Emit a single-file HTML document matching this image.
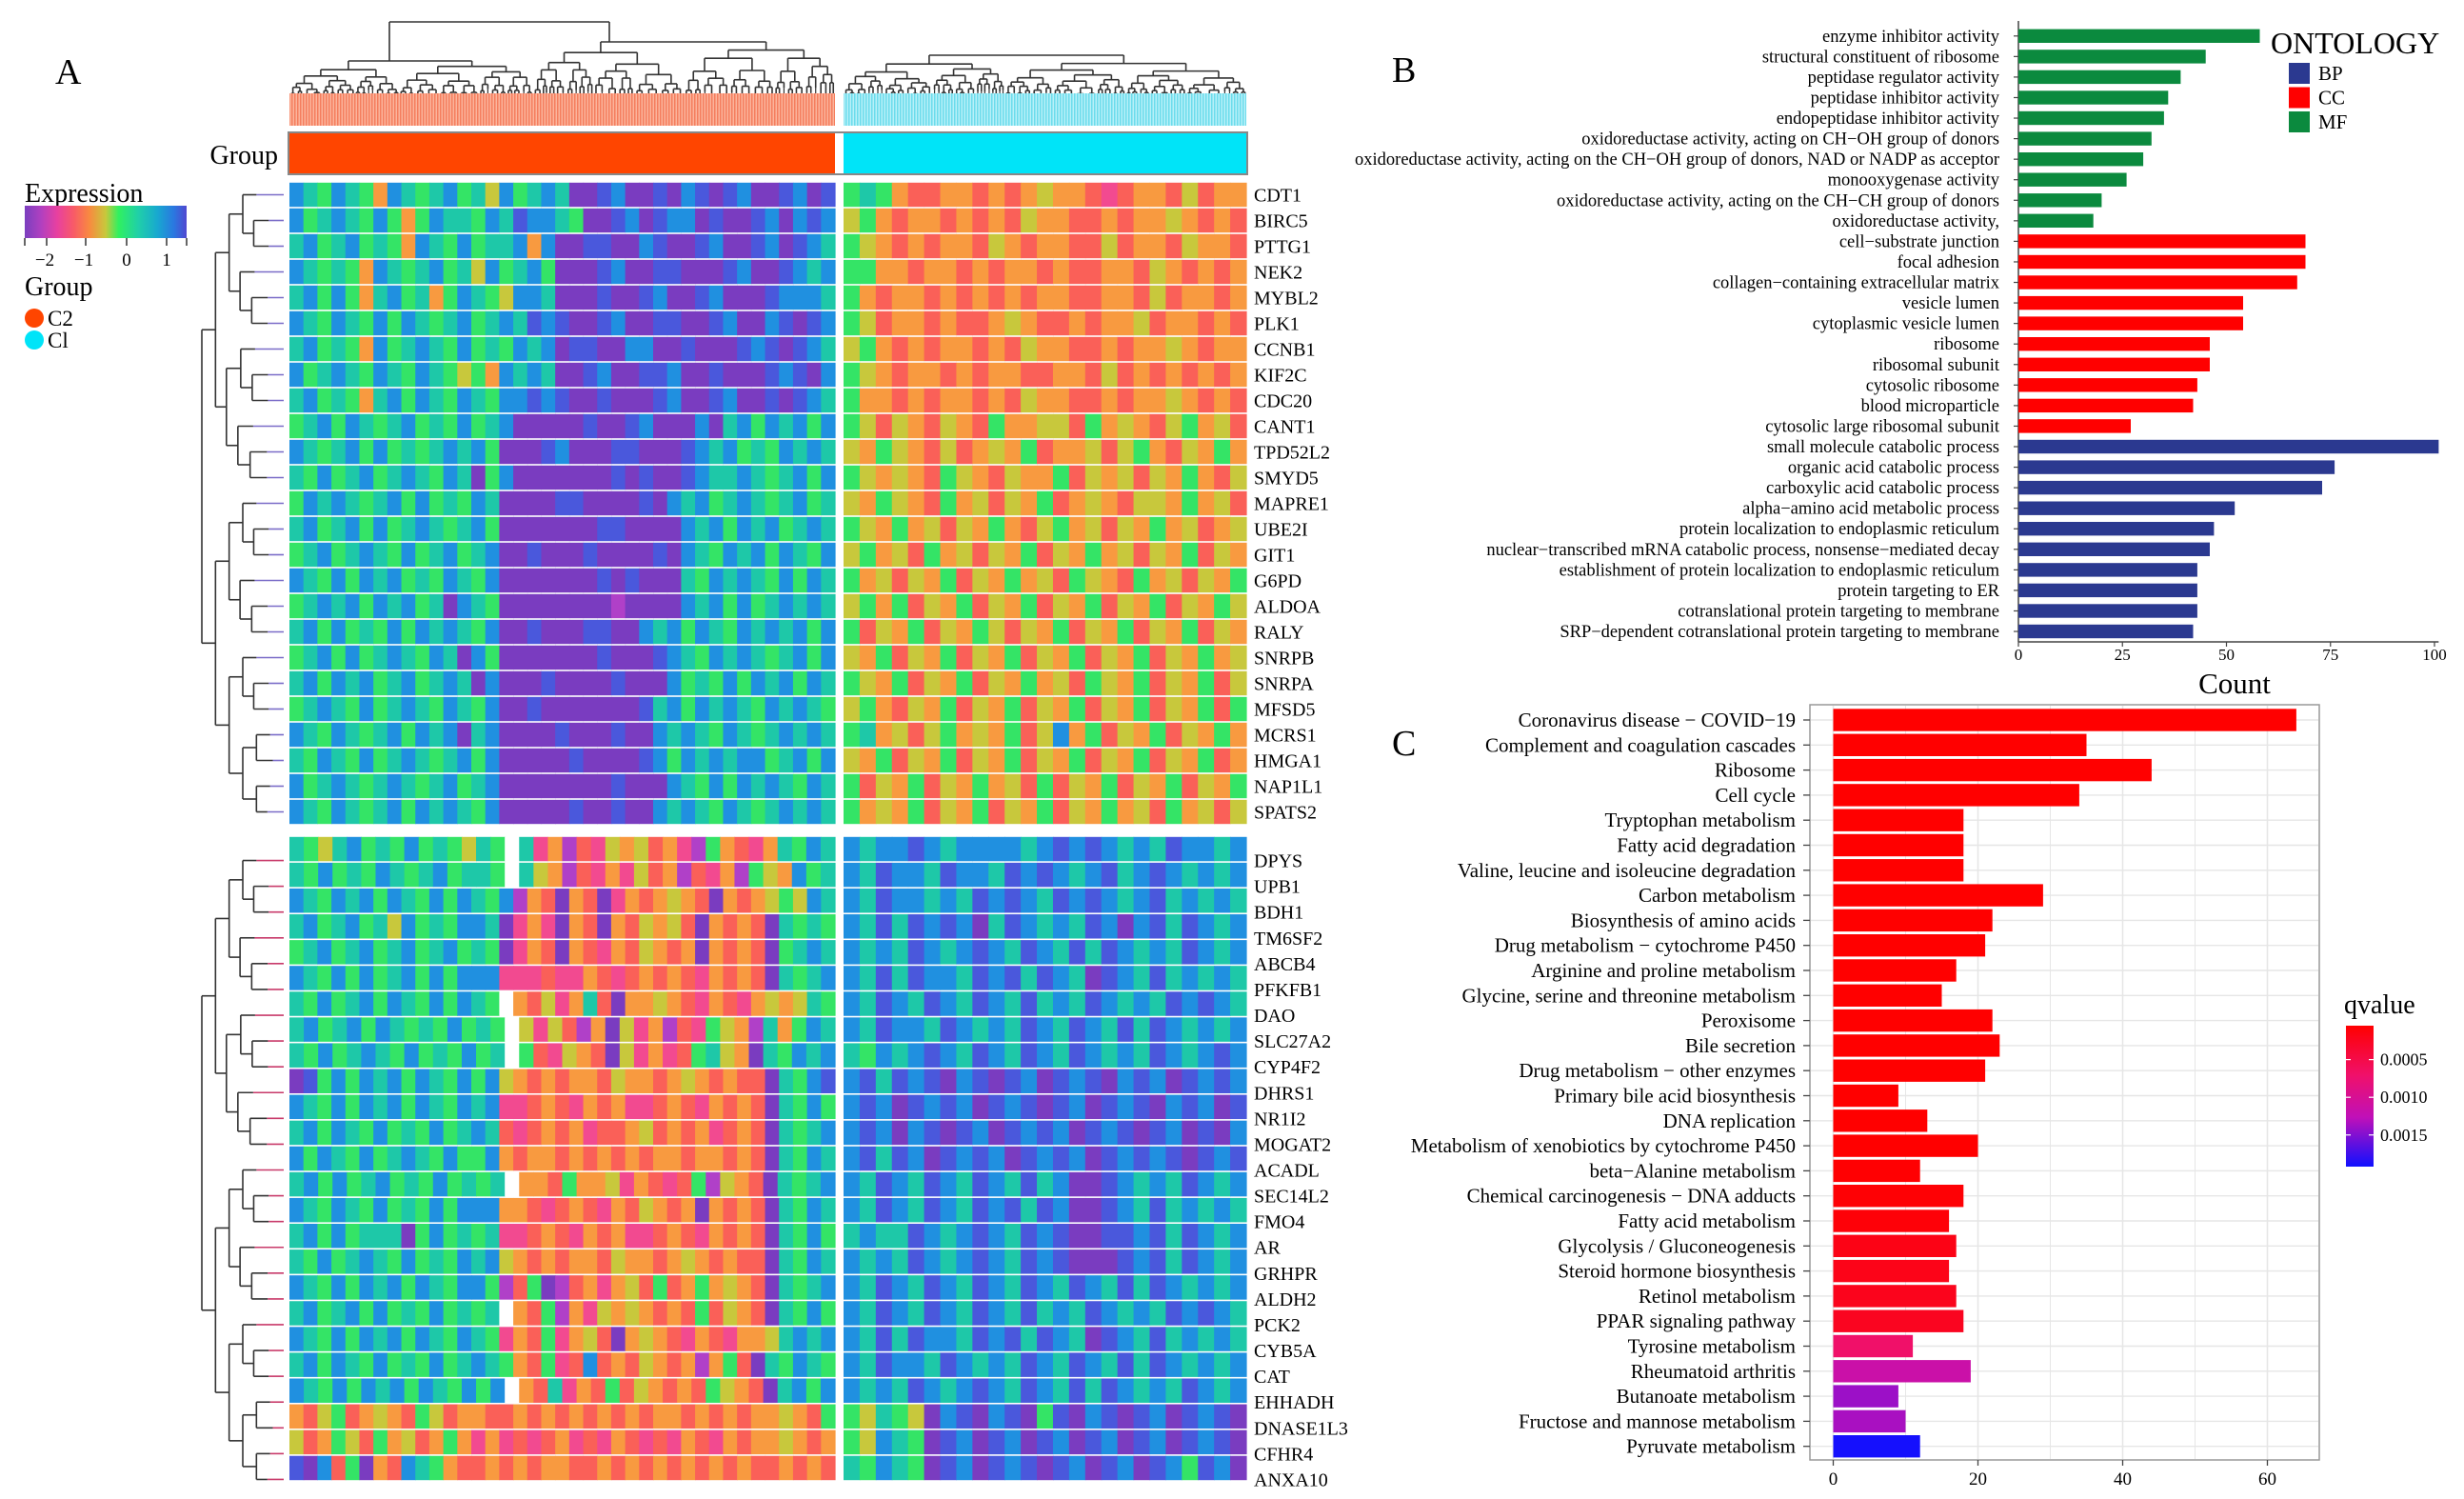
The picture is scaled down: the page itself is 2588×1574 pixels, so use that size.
<!DOCTYPE html>
<html><head><meta charset="utf-8">
<style>
html,body{margin:0;padding:0;background:#fff;}
svg{display:block;font-family:"Liberation Serif","DejaVu Serif",serif;}
</style></head>
<body>
<svg id="fig" width="2588" height="1574" viewBox="0 0 2588 1574" xmlns="http://www.w3.org/2000/svg">
<defs>
<linearGradient id="exprGrad" x1="0" x2="1" y1="0" y2="0">
<stop offset="0" stop-color="#7a3fbf"/><stop offset="0.1" stop-color="#b040c0"/><stop offset="0.2" stop-color="#e840a0"/>
<stop offset="0.3" stop-color="#f85a68"/><stop offset="0.4" stop-color="#f88a40"/><stop offset="0.5" stop-color="#c8c83c"/>
<stop offset="0.58" stop-color="#30f060"/><stop offset="0.7" stop-color="#20d0a8"/><stop offset="0.82" stop-color="#18a8d0"/>
<stop offset="0.92" stop-color="#2a78e0"/><stop offset="1" stop-color="#5048d0"/>
</linearGradient>
<linearGradient id="qGrad" x1="0" x2="0" y1="0" y2="1">
<stop offset="0" stop-color="#ff0000"/><stop offset="0.35" stop-color="#f0106a"/><stop offset="0.65" stop-color="#c010b8"/><stop offset="1" stop-color="#1010ff"/>
</linearGradient>
<pattern id="salmonLines" width="3" height="10" patternUnits="userSpaceOnUse"><rect width="3" height="10" fill="#fbb49c"/><rect width="1.5" height="10" fill="#f57e5e"/></pattern>
<pattern id="cyanLines" width="3" height="10" patternUnits="userSpaceOnUse"><rect width="3" height="10" fill="#b8f0f8"/><rect width="1.5" height="10" fill="#6cdcec"/></pattern>
</defs>

<text x="58" y="88" font-size="38">A</text>
<text x="1462" y="86" font-size="38">B</text>
<text x="1462" y="793" font-size="38">C</text>

<g id="colDendro"></g>
<rect x="304" y="98" width="573" height="34" fill="url(#salmonLines)"/>
<rect x="886" y="98" width="423" height="34" fill="url(#cyanLines)"/>

<text x="292" y="172" font-size="28" text-anchor="end">Group</text>
<rect x="303" y="139" width="1007" height="44" fill="none" stroke="#888" stroke-width="2"/>
<rect x="304" y="140" width="573" height="42" fill="#ff4500"/>
<rect x="886" y="140" width="423" height="42" fill="#00e4f8"/>

<g>
<text x="26" y="212" font-size="28">Expression</text>
<rect x="26" y="216" width="170" height="34" fill="url(#exprGrad)"/>
<g stroke="#333" stroke-width="1.5"><line x1="26" y1="250" x2="26" y2="258"/><line x1="49" y1="250" x2="49" y2="258"/><line x1="90" y1="250" x2="90" y2="258"/><line x1="133" y1="250" x2="133" y2="258"/><line x1="175" y1="250" x2="175" y2="258"/><line x1="196" y1="250" x2="196" y2="258"/></g>
<g font-size="19" text-anchor="middle"><text x="47" y="279">−2</text><text x="88" y="279">−1</text><text x="133" y="279">0</text><text x="175" y="279">1</text></g>
<text x="26" y="310" font-size="28">Group</text>
<circle cx="36" cy="334" r="10" fill="#ff4500"/>
<text x="50" y="342" font-size="23">C2</text>
<circle cx="36" cy="357" r="10" fill="#00e4f8"/>
<text x="50" y="365" font-size="23">Cl</text>
</g>

<g id="rowDendro"></g>
<g id="heatmap"></g>
<g id="rowLabels"></g>

<g id="panelB"></g>
<g id="panelC"></g>
</svg>

<script>
// ===== Heatmap data =====
const upperGenes = ["CDT1","BIRC5","PTTG1","NEK2","MYBL2","PLK1","CCNB1","KIF2C","CDC20","CANT1","TPD52L2","SMYD5","MAPRE1","UBE2I","GIT1","G6PD","ALDOA","RALY","SNRPB","SNRPA","MFSD5","MCRS1","HMGA1","NAP1L1","SPATS2"];
const lowerGenes = ["DPYS","UPB1","BDH1","TM6SF2","ABCB4","PFKFB1","DAO","SLC27A2","CYP4F2","DHRS1","NR1I2","MOGAT2","ACADL","SEC14L2","FMO4","AR","GRHPR","ALDH2","PCK2","CYB5A","CAT","EHHADH","DNASE1L3","CFHR4","ANXA10"];
// level codes per column block: 0 purple .. 9 blue-violet, w = missing
const upperC2 = [
"876876487678675867870098009089098009809","867876864687768798876009809880900980898","786786764876867784800990089009800980987",
"876764876786758678600098009900098009878","786864786746876588700090098009800098887","876876868767867879890098009900980089098",
"786764867876867687809900880090009890987","867876876876564878700980099800900098908","786764786876876889890090009800980090987",
"678687678676867800000900980008078687868","876786867678786000980009900098786768787","768678678768706800000009090098778767868",
"687876786867687000099000090878678767867","786786867876786000000099000087868786787","678678768678678009000900009087687868768",
"876868786768768000000090900076878768687","678786878670876000000001000087868678787","786867686878768009000990087868768787868",
"678686787687086000000090009876878767868","786878678678708000900009000867686878687","678768678768768009000000097868787687876",
"876876786878078000090009008787687678787","768768678767868000009000098687878867868","867876787678678000000009000876868787687",
"876876786878768000009009008787687678787"];
const upperC1 = [
"6764334434345443234435344","5643443434354433434454343","6543434435434433534435443","6644344343443433443543434",
"6434434343434433443534434","6534434334543343445344343","5643434434354433434454344","6543443434433443534343434",
"6443434434354433434454343","6535435436445536454356453","5465435345463445356435464","6545436543544635453546435",
"5465436453546345435546453","6546453546435645354645345","5645364535463546453546354","6453546354645365436453546",
"5646354635463546354635465","6354635465354635463546354","5463546354635463546354645","6546354635464536546354635",
"5643546354635463546354636","6745356454635846354635464","5463546354635463546354634","6354635464536354635463546",
"6454635463546354645364535"];
const lowerC2 = [
"765786768676576w7241325453421643247687","768676876786776w7541324253413241654867","876878687686876814304302434543043456587",
"786786758676887024204304354530434307676","678678678678676024304324354340434306787","876868678686888222322432343432434307678",
"768678687686876w43524730445432432454576","786786876768676w5253140524132654174687","768678768676867w6325430524236754076878",
"096868786876868543434435443454343307689","876868786876878223432434223432434307686","786876867686787323434233453434234307678",
"868768678768668434434343434434434307687","786867867686767w4436445243236154307678","876876867686888443234324354340434307687",
"786867770686767223432434223432434307686","768678768676878543434435443454343307687","876868786876886136013424536346454307678",
"786786867686767w43614254543436354307686","876868786876876243624530454324324457878","786876867686787643623834354341463076876",
"876868786876868w4372436354343654307868","435634543653443343434343434434343445436","534653645346424232342324323243243445434",
"908360438764334343443343434343434334343"];
const lowerC1 = [
"8788987888878989878798878","8798879887989878978987878","8798878798987989878978787",
"8797989807987879808979878","8787987898798797987879878","8797988798979870987978787",
"8798798798797879878798987","8798879878798798797987878","7687898798798798787987898",
"8979890890980989089809898","8980989809890980989089809","8980890980989809890980908",
"8979809898098980989890989","8798798798797800987879878","8798798798979800987978787",
"7877987898798900998979878","8787987898798900098979878","8798798798798798797987878",
"8798798798797879878798987","8797988798979870987978787","8798879878798798797987878",
"8787987898798797987879878","6576508908906908909809890","6587609809809809809809890",
"7687609809890980980986980"];

const palette = {"0":"#7a3cc0","1":"#b040c8","2":"#f24a90","3":"#fa6058","4":"#f89a40","5":"#c8c83c","6":"#34e466","7":"#1ec8a8","8":"#2090e0","9":"#4a58dc","w":"#ffffff"};

const hm = document.getElementById('heatmap');
const NS = 'http://www.w3.org/2000/svg';
function mk(tag, attrs, parent){const e=document.createElementNS(NS,tag);for(const k in attrs)e.setAttribute(k,attrs[k]);(parent||hm).appendChild(e);return e;}

const c2x0=304,c2x1=877,c1x0=886,c1x1=1309;
function drawBlock(c2, c1, genes, y0, y1, labelShift){
  const n=c2.length, rh=(y1-y0)/n;
  for(let r=0;r<n;r++){
    const y=y0+r*rh;
    [[c2[r],c2x0,c2x1],[c1[r],c1x0,c1x1]].forEach(([s,a,b])=>{
      const w=(b-a)/s.length;
      for(let i=0;i<s.length;i++){
        const cell=mk('rect',{x:(a+i*w).toFixed(2),y:(y+0.8).toFixed(2),width:(w+0.6).toFixed(2),height:(rh-1.6).toFixed(2),fill:palette[s[i]]});
        
        
      }
    });
    const t=mk('text',{x:1317,y:(y+rh/2+7+labelShift).toFixed(1),'font-size':20},document.getElementById('rowLabels'));
    t.textContent=genes[r];
    
    
  }
}
drawBlock(upperC2, upperC1, upperGenes, 191, 866, 0);
drawBlock(lowerC2, lowerC1, lowerGenes, 878, 1555, 12);

// ===== Dendrograms (structure) =====
const cd=document.getElementById('colDendro');
function line(p,x1,y1,x2,y2,col,w){mk('line',{x1,y1,x2,y2,stroke:col,'stroke-width':w||1.6},p);}
function tree(p,a,b,yTop,yLeaf,depth){
  const cx=(a+b)/2;
  if(depth===0||b-a<6){line(p,cx,yTop,cx,yLeaf,'#333',1.2);return cx;}
  const f=((depth*7+Math.round(a))%5)/20+0.4;
  const m=a+(b-a)*f;
  const step=(yLeaf-yTop)/(depth+1);
  const yl=yTop+step*(1+((depth+Math.round(b))%3)*0.3);
  const yr=yTop+step*(1+((depth+Math.round(a))%2)*0.5);
  const l=tree(p,a,m,Math.min(yl,yLeaf-4),yLeaf,depth-1);
  const r=tree(p,m,b,Math.min(yr,yLeaf-4),yLeaf,depth-1);
  line(p,l,yTop,r,yTop,'#333');
  line(p,l,yTop,l,Math.min(yl,yLeaf-4),'#333');
  line(p,r,yTop,r,Math.min(yr,yLeaf-4),'#333');
  return (l+r)/2;
}
tree(cd,304,560,64,104,6);
tree(cd,560,877,44,104,6);
line(cd,409,23,640,23,'#333');line(cd,409,23,409,64,'#333');line(cd,640,23,640,44,'#333');
tree(cd,886,1309,58,104,7);

const rd=document.getElementById('rowDendro');
function rowTree(a,b,xTop,xLeaf,depth,col,rh,y0){
  if(b-a===1){const y=y0+(a+0.5)*rh;line(rd,xTop,y,xLeaf,y,col,1.6);return y;}
  const m=Math.floor((a+b)/2);
  const step=(xLeaf-xTop)/(depth+1);
  const s2=step*(0.8+((a+b)%3)*0.2);
  const y1=rowTree(a,m,xTop+step,xLeaf,depth-1,col,rh,y0);
  const y2=rowTree(m,b,xTop+s2,xLeaf,depth-1,col,rh,y0);
  line(rd,xTop,y1,xTop,y2,'#333',1.6);
  line(rd,xTop,y1,xTop+step,y1,'#333',1.6);
  line(rd,xTop,y2,xTop+s2,y2,'#333',1.6);
  return (y1+y2)/2;
}
rowTree(0,25,212,298,5,'#7a6cc8',(866-191)/25,191);
rowTree(0,25,212,298,5,'#c83a6a',(1555-878)/25,878+12);

// ===== Panel B: GO enrichment =====
const goTerms = ["enzyme inhibitor activity","structural constituent of ribosome","peptidase regulator activity","peptidase inhibitor activity","endopeptidase inhibitor activity","oxidoreductase activity, acting on CH−OH group of donors","oxidoreductase activity, acting on the CH−OH group of donors, NAD or NADP as acceptor","monooxygenase activity","oxidoreductase activity, acting on the CH−CH group of donors","oxidoreductase activity,","cell−substrate junction","focal adhesion","collagen−containing extracellular matrix","vesicle lumen","cytoplasmic vesicle lumen","ribosome","ribosomal subunit","cytosolic ribosome","blood microparticle","cytosolic large ribosomal subunit","small molecule catabolic process","organic acid catabolic process","carboxylic acid catabolic process","alpha−amino acid metabolic process","protein localization to endoplasmic reticulum","nuclear−transcribed mRNA catabolic process, nonsense−mediated decay","establishment of protein localization to endoplasmic reticulum","protein targeting to ER","cotranslational protein targeting to membrane","SRP−dependent cotranslational protein targeting to membrane"];
const goCounts = [58,45,39,36,35,32,30,26,20,18,69,69,67,54,54,46,46,43,42,27,101,76,73,52,47,46,43,43,43,42];
const goOntology = ["MF","MF","MF","MF","MF","MF","MF","MF","MF","MF","CC","CC","CC","CC","CC","CC","CC","CC","CC","CC","BP","BP","BP","BP","BP","BP","BP","BP","BP","BP"];
const goTicks = [0,25,50,75,100];
const ontColors = {BP:"#2b3990",CC:"#ff0000",MF:"#0b8a3e"};

const pB=document.getElementById('panelB');
const bx0=2120, bxs=4.37, by0=37.8, bstep=21.56;
const xB=v=>bx0+v*bxs, yB=i=>by0+i*bstep;
mk('line',{x1:bx0,y1:22,x2:bx0,y2:674,stroke:'#444','stroke-width':1.5},pB);
mk('line',{x1:bx0,y1:674,x2:xB(101),y2:674,stroke:'#444','stroke-width':1.5},pB);
goCounts.forEach((v,i)=>{
  const b=mk('rect',{x:bx0,y:(yB(i)-7.2).toFixed(1),width:(xB(v)-bx0).toFixed(1),height:14.4,fill:ontColors[goOntology[i]]},pB);
  
  
  mk('line',{x1:bx0-5,y1:yB(i),x2:bx0,y2:yB(i),stroke:'#444','stroke-width':1.2},pB);
  const t=mk('text',{x:2100,y:(yB(i)+6).toFixed(1),'font-size':18.5,'text-anchor':'end'},pB);
  t.textContent=goTerms[i];
  
  
});
goTicks.forEach(v=>{
  mk('line',{x1:xB(v),y1:674,x2:xB(v),y2:679,stroke:'#444','stroke-width':1.2},pB);
  const t=mk('text',{x:xB(v),y:693,'font-size':17,'text-anchor':'middle'},pB);
  t.textContent=v;
  
  
});
{const t=mk('text',{x:2347,y:728,'font-size':31,'text-anchor':'middle'},pB);t.textContent='Count';

}
{const t=mk('text',{x:2385,y:56,'font-size':32},pB);t.textContent='ONTOLOGY';

}
["BP","CC","MF"].forEach((k,i)=>{
  const r=mk('rect',{x:2404,y:66+i*25.5,width:22,height:22,fill:ontColors[k]},pB);
  
  
  const t=mk('text',{x:2435,y:84+i*25.5,'font-size':21},pB);t.textContent=k;
  
  
});

// ===== Panel C: KEGG enrichment =====
const keggTerms = ["Coronavirus disease − COVID−19","Complement and coagulation cascades","Ribosome","Cell cycle","Tryptophan metabolism","Fatty acid degradation","Valine, leucine and isoleucine degradation","Carbon metabolism","Biosynthesis of amino acids","Drug metabolism − cytochrome P450","Arginine and proline metabolism","Glycine, serine and threonine metabolism","Peroxisome","Bile secretion","Drug metabolism − other enzymes","Primary bile acid biosynthesis","DNA replication","Metabolism of xenobiotics by cytochrome P450","beta−Alanine metabolism","Chemical carcinogenesis − DNA adducts","Fatty acid metabolism","Glycolysis / Gluconeogenesis","Steroid hormone biosynthesis","Retinol metabolism","PPAR signaling pathway","Tyrosine metabolism","Rheumatoid arthritis","Butanoate metabolism","Fructose and mannose metabolism","Pyruvate metabolism"];
const keggCounts = [64,35,44,34,18,18,18,29,22,21,17,15,22,23,21,9,13,20,12,18,16,17,16,17,18,11,19,9,10,12];
const keggQ = [0.00005,0.00005,0.00005,0.00005,0.00005,0.00005,0.00005,0.00005,0.00005,0.00005,0.00005,0.00005,0.00005,0.00005,0.00005,0.00005,0.00005,0.00005,0.00006,0.00008,0.0001,0.00018,0.0002,0.00022,0.00025,0.0007,0.00115,0.0014,0.00135,0.0019];
const keggTicks = [0,20,40,60];
const qTicks = [0.0005,0.0010,0.0015];

const pC=document.getElementById('panelC');
const cx0=1925.5, cxs=7.6, cy0=756, cstep=26.3;
const xC=v=>cx0+v*cxs, yC=i=>cy0+i*cstep;
const qTop=0.00005,qBot=0.00192,qy0=1077,qy1=1225;
const yQ=q=>qy0+(q-qTop)/(qBot-qTop)*(qy1-qy0);
function qColor(q){
  const t=Math.max(0,Math.min(1,(q-qTop)/(qBot-qTop)));
  const stops=[[0,[255,0,0]],[0.35,[240,16,106]],[0.65,[192,16,184]],[1,[16,16,255]]];
  for(let k=1;k<stops.length;k++){if(t<=stops[k][0]){const [a,ca]=stops[k-1],[b,cb]=stops[k];const u=(t-a)/(b-a);return 'rgb('+ca.map((c,j)=>Math.round(c+(cb[j]-c)*u)).join(',')+')';}}
  return 'rgb(16,16,255)';
}
mk('rect',{x:1901,y:740,width:535,height:793,fill:'#fff',stroke:'#999','stroke-width':1.5},pC);
for(let v=0;v<=65;v+=10){mk('line',{x1:xC(v),y1:741,x2:xC(v),y2:1532,stroke:'#e6e6e6','stroke-width':v%20===0?1.6:1},pC);}
keggCounts.forEach((v,i)=>{mk('line',{x1:1902,y1:yC(i),x2:2435,y2:yC(i),stroke:'#e6e6e6','stroke-width':1.4},pC);});
keggCounts.forEach((v,i)=>{
  const b=mk('rect',{x:cx0,y:(yC(i)-11.7).toFixed(1),width:(xC(v)-cx0).toFixed(1),height:23.4,fill:qColor(keggQ[i])},pC);
  
  
  mk('line',{x1:1894,y1:yC(i),x2:1901,y2:yC(i),stroke:'#444','stroke-width':1.3},pC);
  const t=mk('text',{x:1886,y:(yC(i)+7).toFixed(1),'font-size':21,'text-anchor':'end'},pC);
  t.textContent=keggTerms[i];
  
  
});
keggTicks.forEach(v=>{
  mk('line',{x1:xC(v),y1:1533,x2:xC(v),y2:1539,stroke:'#444','stroke-width':1.3},pC);
  const t=mk('text',{x:xC(v),y:1559,'font-size':19,'text-anchor':'middle'},pC);
  t.textContent=v;
  
  
});
{const t=mk('text',{x:2462,y:1064,'font-size':28},pC);t.textContent='qvalue';

}
{const r=mk('rect',{x:2464,y:qy0,width:29,height:qy1-qy0,fill:'url(#qGrad)'},pC);

}
qTicks.forEach(q=>{
  mk('line',{x1:2464,y1:yQ(q),x2:2469,y2:yQ(q),stroke:'#fff','stroke-width':1.2},pC);
  mk('line',{x1:2488,y1:yQ(q),x2:2493,y2:yQ(q),stroke:'#fff','stroke-width':1.2},pC);
  const t=mk('text',{x:2500,y:yQ(q)+6,'font-size':18},pC);
  t.textContent=q.toFixed(4);
  
  
});
</script>
</body></html>
